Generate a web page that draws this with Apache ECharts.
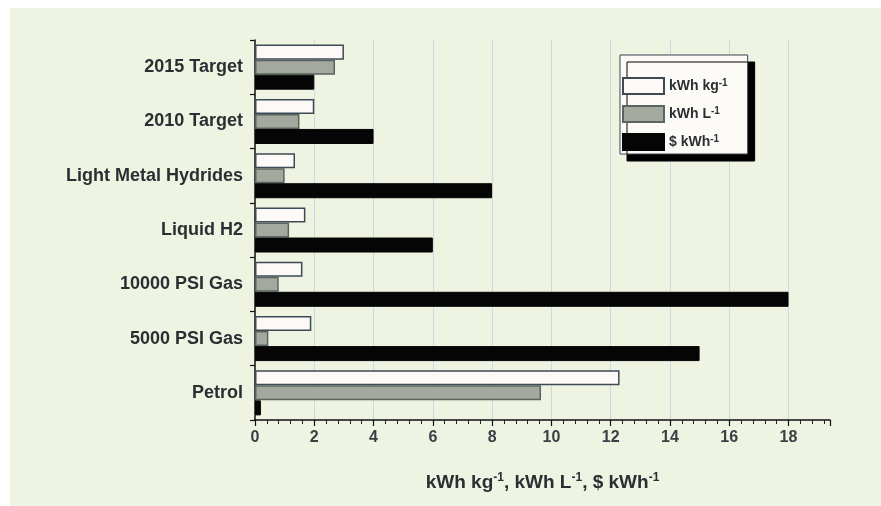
<!DOCTYPE html>
<html>
<head>
<meta charset="utf-8">
<script src="https://cdn.jsdelivr.net/npm/echarts@6/dist/echarts.min.js"></script>
<style>
  html, body { margin: 0; padding: 0; background: #ffffff; }
  #chart { width: 881px; height: 506px; }
</style>
</head>
<body>
<div id="chart"></div>
<script>
// Categories (top to bottom)
const categories = ['2015 Target', '2010 Target', 'Light Metal Hydrides', 'Liquid H2', '10000 PSI Gas', '5000 PSI Gas', 'Petrol'];
// Series names
const seriesNames = ['kWh kg-1', 'kWh L-1', '$ kWh-1'];
// Values
const kwhPerKg = [3.0, 2.0, 1.35, 1.7, 1.6, 1.9, 12.3];
const kwhPerL  = [2.7, 1.5, 1.0, 1.15, 0.8, 0.45, 9.65];
const dollarPerKwh = [2.0, 4.0, 8.0, 6.0, 18.0, 15.0, 0.2];
// Axis ticks
const xMin = 0, xMax = 19.4, xInterval = 2;

const legendLabels = {
  'kWh kg-1': 'kWh kg{sup|-1}',
  'kWh L-1': 'kWh L{sup|-1}',
  '$ kWh-1': '$ kWh{sup|-1}'
};

const chart = echarts.init(document.getElementById('chart'), null, { renderer: 'canvas' });
const font = 'Liberation Sans, Arial, sans-serif';
const supStyle = { fontSize: 10, fontWeight: 'bold', fontFamily: font, color: '#2a2f33', padding: [0, 0, 6, 0] };

chart.setOption({
  animation: false,
  backgroundColor: '#ffffff',
  graphic: [{
    type: 'rect', left: 10, top: 8, z: -10, silent: true,
    shape: { width: 871, height: 498 },
    style: { fill: '#eef3e2' }
  }],
  grid: { left: 255, right: 51, top: 40, bottom: 86, containLabel: false },
  legend: {
    orient: 'vertical',
    left: 620, top: 55,
    data: seriesNames,
    itemWidth: 41, itemHeight: 16, itemGap: 10,
    padding: [22, 20, 3, 2],
    backgroundColor: '#fdfbf8',
    borderColor: '#3a4550', borderWidth: 1,
    shadowColor: '#000000', shadowOffsetX: 7, shadowOffsetY: 7, shadowBlur: 0,
    icon: 'rect',
    formatter: name => legendLabels[name],
    textStyle: {
      fontFamily: font, fontSize: 14, fontWeight: 'bold', color: '#2a2f33',
      lineHeight: 18,
      rich: { sup: supStyle }
    }
  },
  xAxis: {
    type: 'value',
    min: xMin, max: xMax, interval: xInterval,
    name: 'kWh kg{sup|-1}, kWh L{sup|-1}, $ kWh{sup|-1}',
    nameLocation: 'middle', nameGap: 52,
    nameTextStyle: {
      fontFamily: font, fontSize: 19, fontWeight: 'bold', color: '#2a2f33',
      rich: { sup: Object.assign({}, supStyle, { fontSize: 12, padding: [0, 0, 9, 0] }) }
    },
    axisLine: { show: true, lineStyle: { color: '#111', width: 1.5 } },
    axisTick: { show: true, length: 6, lineStyle: { color: '#111', width: 1.2 } },
    minorTick: { show: true, splitNumber: 5, length: 4, lineStyle: { color: '#222', width: 1 } },
    splitLine: { show: true, showMaxLine: false, showMinLine: false, lineStyle: { color: '#c8dbe0', width: 1 } },
    axisLabel: { fontFamily: font, fontSize: 16, fontWeight: 'bold', color: '#3a3f44', margin: 10, showMaxLabel: false }
  },
  yAxis: {
    type: 'category',
    inverse: true,
    data: categories,
    axisLine: { show: true, lineStyle: { color: '#111', width: 1.5 } },
    axisTick: { show: true, length: 5, lineStyle: { color: '#111', width: 1.2 } },
    axisLabel: { fontFamily: font, fontSize: 18, fontWeight: 'bold', color: '#2a2f33', margin: 12 },
    splitLine: { show: false }
  },
  series: [
    {
      name: seriesNames[0], type: 'bar', data: kwhPerKg,
      barGap: '0%', barCategoryGap: '17%',
      itemStyle: { color: '#fdf9f6', borderColor: '#3d4a55', borderWidth: 1.5 }
    },
    {
      name: seriesNames[1], type: 'bar', data: kwhPerL,
      barGap: '0%', barCategoryGap: '17%',
      itemStyle: { color: '#a4a9a0', borderColor: '#59645f', borderWidth: 1.5 }
    },
    {
      name: seriesNames[2], type: 'bar', data: dollarPerKwh,
      barGap: '0%', barCategoryGap: '17%',
      itemStyle: { color: '#050505', borderColor: '#050505', borderWidth: 1 }
    }
  ]
});
</script>
</body>
</html>
